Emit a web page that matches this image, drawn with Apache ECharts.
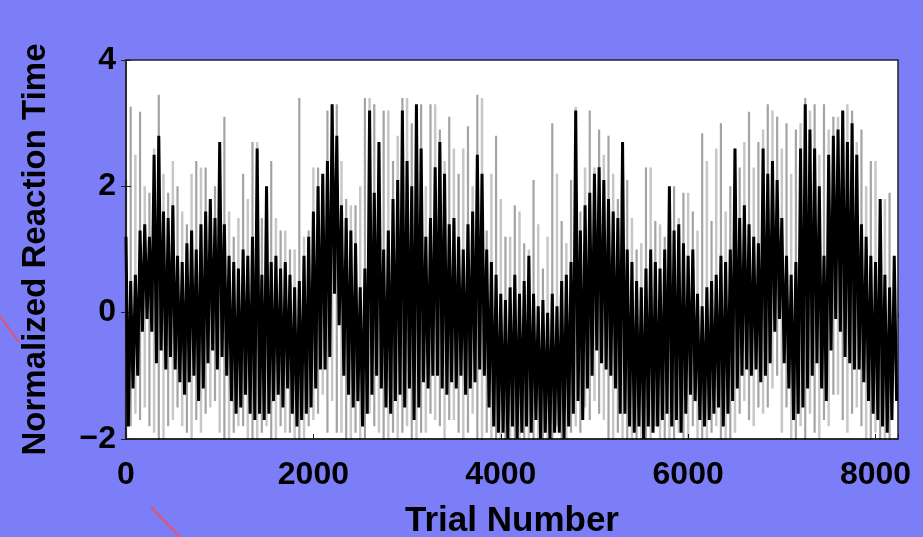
<!DOCTYPE html>
<html><head><meta charset="utf-8">
<script src="https://cdn.jsdelivr.net/npm/echarts@6/dist/echarts.min.js"></script>
<style>html,body{margin:0;padding:0;background:#7c7ef8}#c{width:923px;height:537px}</style>
</head><body><div id="c"></div>
<script>
// Black band: upper/lower reading every 50 trials (starting at trial 0)
var blackStep = 50;
var blackHi = [1.2,0.5,0.6,1.3,1.4,1.2,2.5,2.8,1.6,1.5,
1.7,0.9,0.8,1.1,1.3,1.0,1.4,1.6,1.8,1.5,
2.7,1.4,0.9,0.8,0.7,1.0,0.9,1.2,2.6,0.6,
2.0,0.8,0.9,0.7,0.8,0.6,0.4,0.5,0.9,1.2,
1.6,2.0,2.2,2.4,3.3,2.8,1.7,1.5,1.3,1.1,
0.4,0.7,3.2,1.9,2.7,1.0,1.3,1.8,2.1,3.2,
2.4,2.0,3.3,2.6,1.2,1.5,2.3,2.7,2.2,1.4,
1.5,1.2,1.0,1.4,1.6,2.5,2.2,1.0,0.8,0.6,
0.3,0.2,0.4,0.6,0.3,0.5,0.9,0.3,0.1,0.2,
0.0,0.3,0.1,0.5,0.6,0.8,3.2,1.3,1.7,1.9,
2.2,2.3,2.1,1.8,1.6,1.5,2.7,1.0,0.8,0.5,
0.4,0.7,1.0,0.8,0.7,1.0,2.0,1.3,1.4,1.1,
0.9,1.0,0.3,0.1,0.4,0.5,0.6,0.9,0.8,1.0,
2.6,1.5,1.7,1.4,1.2,1.1,2.6,2.2,2.4,2.1,
1.5,0.9,0.6,0.8,2.6,3.3,2.9,2.6,2.0,0.9,
2.5,2.8,2.9,3.2,2.7,3.0,2.5,1.4,1.2,0.9,
0.8,1.8,0.6,0.4,0.9];
var blackLo = [-1.8,-1.2,-1.0,-0.3,-0.1,-0.3,-0.8,-0.6,-0.9,-0.7,
-0.9,-1.1,-1.3,-1.1,-1.0,-1.4,-1.2,-0.8,-0.6,-0.9,
-0.7,-1.0,-1.4,-1.6,-1.5,-1.3,-1.6,-1.7,-1.6,-1.7,
-1.6,-1.4,-1.3,-1.5,-1.2,-1.6,-1.8,-1.7,-1.6,-1.5,
-1.2,-0.9,-0.9,-0.7,0.3,-0.2,-1.0,-1.3,-1.5,-1.4,
-1.8,-1.6,-1.3,-1.0,-1.2,-1.5,-1.6,-1.4,-1.3,-1.5,
-1.2,-1.7,-1.5,-1.1,-1.2,-1.0,-1.0,-1.2,-1.3,-1.1,
-1.2,-1.0,-1.3,-1.2,-1.1,-0.9,-1.0,-1.5,-1.8,-1.9,
-1.9,-2.0,-1.8,-2.0,-1.9,-1.8,-1.9,-1.7,-2.0,-1.9,
-2.0,-1.9,-1.9,-2.0,-1.8,-1.6,-1.4,-1.7,-1.2,-1.0,
-0.6,-0.8,-0.9,-1.0,-1.2,-1.6,-1.6,-1.8,-1.9,-1.8,
-2.0,-1.8,-1.9,-1.8,-1.7,-1.6,-1.8,-1.7,-1.9,-1.6,
-1.3,-1.4,-1.7,-1.8,-1.7,-1.6,-1.5,-1.8,-1.6,-1.4,
-1.2,-1.0,-0.9,-1.0,-0.9,-1.1,-1.0,-0.8,-0.3,-0.1,
-0.8,-1.2,-1.7,-1.6,-1.5,-1.2,-1.0,-0.8,-1.2,-1.4,
-0.6,-0.1,-0.3,-0.7,-0.8,-0.9,-0.9,-1.1,-1.4,-1.6,
-1.7,-1.8,-1.9,-1.7,-1.4];

// Grey error lines, set A: one reading every 100 trials (centred at 50, 150, ...)
var greyStep = 100;
var greyHiA = [3.26,3.18,1.9,3.45,1.9,2.0,1.4,2.4,2.3,2.0,
3.1,1.2,2.2,2.7,1.5,2.4,1.3,1.0,3.4,1.3,
2.3,3.2,3.3,1.8,1.7,3.4,3.3,3.2,2.4,3.4,
3.0,3.3,3.3,2.9,3.1,2.2,2.95,3.45,1.3,2.8,
1.2,1.7,1.1,2.1,0.7,3.0,1.45,2.1,1.6,3.2,
2.9,2.8,1.8,2.1,1.0,2.3,1.45,1.2,2.0,1.9,
1.6,2.84,1.45,3.0,2.0,2.3,3.18,2.7,3.3,3.1,
3.0,2.9,3.4,3.3,3.3,3.1,3.0,3.2,2.9,2.4,
1.6,1.9];
var greyLoA = [-1.8,-1.7,-1.8,-2.3,-1.8,-1.5,-1.9,-1.7,-1.6,-1.4,
-2.3,-1.9,-1.8,-2.3,-1.9,-2.3,-1.8,-1.9,-2.3,-1.8,
-1.6,-1.9,-1.9,-2.3,-1.9,-2.0,-1.8,-2.3,-1.9,-1.9,
-2.3,-1.9,-1.6,-1.8,-1.7,-1.9,-1.9,-2.3,-1.9,-2.3,
-2.3,-2.2,-2.3,-2.3,-2.1,-2.3,-2.3,-1.9,-1.9,-1.7,
-1.6,-2.3,-1.9,-2.3,-2.3,-2.3,-1.8,-2.3,-2.3,-2.3,
-1.8,-2.3,-1.9,-2.3,-2.0,-1.6,-1.7,-1.5,-1.5,-1.0,
-1.5,-2.3,-2.3,-1.9,-1.7,-1.3,-1.7,-1.6,-1.8,-2.3,
-2.3,-2.3];
// Grey error lines, set B: one reading every 100 trials (at 0, 100, 200, ...)
var greyHiB = [2.1,2.5,2.0,2.6,2.2,2.4,1.6,2.2,2.3,1.7,
2.4,1.6,1.5,1.8,2.7,1.3,1.5,1.3,1.0,1.2,
2.3,2.1,3.3,2.4,1.7,2.0,3.4,2.7,3.2,2.8,
3.4,2.6,2.0,3.3,2.4,2.6,2.6,2.0,3.4,2.2,
1.8,1.2,1.6,1.0,1.4,1.2,2.2,1.1,3.26,2.3,
2.3,2.5,2.2,2.7,1.5,1.1,2.3,1.4,1.6,1.5,
1.9,1.3,2.4,2.6,1.6,2.6,2.7,2.3,2.9,3.2,
2.6,2.2,3.0,3.2,2.5,2.9,3.1,3.3,2.7,2.0,
2.4,1.8];
var greyLoB = [-2.3,-1.6,-1.5,-1.9,-2.3,-1.7,-1.8,-2.3,-1.9,-1.5,
-1.9,-2.3,-1.8,-2.0,-2.3,-1.8,-2.3,-1.9,-2.0,-2.3,
-1.7,-1.3,-1.4,-1.9,-2.3,-2.3,-1.6,-1.9,-2.3,-2.0,
-1.8,-2.3,-1.9,-1.7,-2.3,-1.7,-2.3,-1.6,-2.3,-2.0,
-2.3,-2.3,-2.3,-2.3,-2.3,-2.3,-1.8,-2.3,-1.8,-1.5,
-1.4,-1.7,-2.3,-2.0,-2.3,-2.3,-2.3,-2.0,-2.3,-1.9,
-2.3,-2.0,-2.3,-1.8,-2.3,-1.9,-1.4,-1.8,-1.6,-1.2,
-1.9,-2.3,-1.8,-1.6,-2.0,-1.8,-1.3,-1.9,-1.5,-2.3,
-1.9,-2.3];

var xTicks = [0, 2000, 4000, 6000, 8000];
var yTicks = [-2, 0, 2, 4];
var xTitle = 'Trial Number';
var yTitle = 'Normalized Reaction Time';

var blackData = [];
for (var i = 0; i < blackHi.length; i++) {
  blackData.push([i * blackStep, blackHi[i]]);
  blackData.push([i * blackStep + blackStep / 2, blackLo[i]]);
}
function bars(hi, lo, offset) {
  var out = [];
  for (var j = 0; j < hi.length; j++) {
    var t = j * greyStep + offset;
    out.push([t, lo[j]], [t, hi[j]], [t, '-']);
  }
  return out;
}
var greyDataA = bars(greyHiA, greyLoA, greyStep / 2);
var greyDataB = bars(greyHiB, greyLoB, 0);

var font = 'Liberation Sans, Arial, Helvetica, sans-serif';
var chart = echarts.init(document.getElementById('c'));
var minus = function (v) { return v < 0 ? '\u2212' + Math.abs(v) : String(v); };
chart.setOption({
  backgroundColor: '#7c7ef8',
  animation: false,
  grid: { left: 126, right: 25, top: 60, bottom: 98, show: true, outerBoundsMode: 'none', containLabel: false,
    backgroundColor: '#ffffff', borderColor: '#222', borderWidth: 1.5 },
  xAxis: [{
    type: 'value', min: 0, max: 8240, interval: 2000,
    name: xTitle, nameLocation: 'middle', nameGap: 65,
    nameTextStyle: { fontFamily: font, fontSize: 35, fontWeight: 'bold', color: '#000' },
    axisLine: { show: true, onZero: false, lineStyle: { color: '#222', width: 1.5 } },
    axisTick: { show: true, inside: true, length: 5, lineStyle: { color: '#222' } },
    axisLabel: { fontFamily: font, fontSize: 32, fontWeight: 'bold', color: '#000', margin: 20,
      formatter: function (v) { return xTicks.indexOf(v) >= 0 ? String(v) : ''; } },
    splitLine: { show: false }
  }, {
    type: 'value', position: 'top', min: 0, max: 8240, interval: 2000,
    axisLine: { show: false }, axisTick: { show: true, inside: true, length: 5, lineStyle: { color: '#222' } },
    axisLabel: { show: false }, splitLine: { show: false }
  }],
  yAxis: [{
    type: 'value', min: -2, max: 4, interval: 2,
    name: yTitle, nameLocation: 'middle', nameGap: 74, nameRotate: 90,
    nameTextStyle: { fontFamily: font, fontSize: 33, fontWeight: 'bold', color: '#000' },
    axisLine: { show: true, onZero: false, lineStyle: { color: '#222', width: 1.5 } },
    axisTick: { show: true, inside: true, length: 5, lineStyle: { color: '#222' } },
    axisLabel: { fontFamily: font, fontSize: 32, fontWeight: 'bold', color: '#000', margin: 10,
      formatter: function (v) { return yTicks.indexOf(v) >= 0 ? minus(v) : ''; } },
    splitLine: { show: false }
  }, {
    type: 'value', position: 'right', min: -2, max: 4, interval: 2,
    axisLine: { show: false }, axisTick: { show: true, inside: true, length: 5, lineStyle: { color: '#222' } },
    axisLabel: { show: false }, splitLine: { show: false }
  }],
  series: [{
    type: 'line', data: greyDataB, symbol: 'none', connectNulls: false, clip: true,
    lineStyle: { color: 'rgba(0,0,0,0.22)', width: 2.5 }, z: 1
  }, {
    type: 'line', data: greyDataA, symbol: 'none', connectNulls: false, clip: true,
    lineStyle: { color: 'rgba(0,0,0,0.36)', width: 2.2 }, z: 2
  }, {
    type: 'line', data: blackData, symbol: 'none', clip: true,
    lineStyle: { color: '#000', width: 3 }, z: 3
  }],
  graphic: [
    { type: 'line', shape: { x1: 0, y1: 316, x2: 19, y2: 342 }, style: { stroke: '#e8506a', lineWidth: 2 } },
    { type: 'line', shape: { x1: 151, y1: 507, x2: 180, y2: 537 }, style: { stroke: '#e8506a', lineWidth: 2 } }
  ]
});
</script></body></html>
